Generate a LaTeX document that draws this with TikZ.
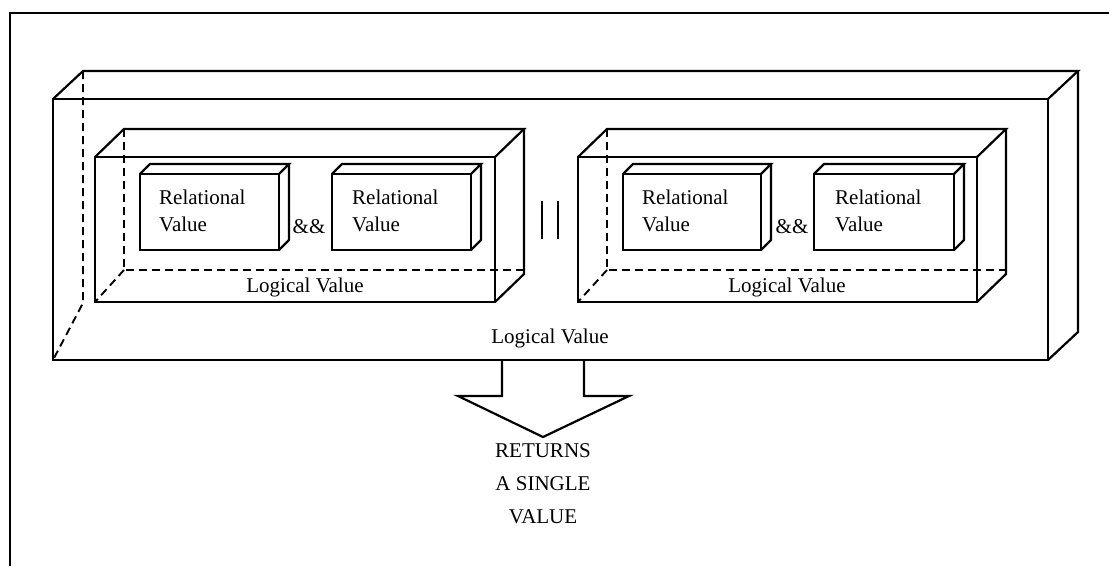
\documentclass[tikz,border=0pt]{standalone}
\usepackage{fontspec}
\setmainfont{Liberation Serif}
\tikzset{
  edge/.style={line width=2.2pt, line join=miter},
  hidden/.style={line width=1.9pt, dash pattern=on 8pt off 5pt},
  frameline/.style={line width=2.8pt},
  lbl/.style={inner sep=0pt, font=\fontsize{21}{27}\selectfont},
  rel/.style={lbl, align=left, anchor=west},
}
% solid box: front face (x1,y1)-(x2,y2), depth offset (dx,dy) towards the upper right
\newcommand\solidbox[6]{%
  \draw[edge] (#1,#2) rectangle (#3,#4);
  \draw[edge] (#1,#2) -- (#1+#5,#2-#6) -- (#3+#5,#2-#6) -- (#3,#2);
  \draw[edge] (#3+#5,#2-#6) -- (#3+#5,#4-#6) -- (#3,#4);
}
\begin{document}
\begin{tikzpicture}[x=1pt,y=-1pt]
\useasboundingbox (0,0) rectangle (1109,566);

% page frame
\draw[frameline] (10,566) -- (10,13) -- (1109,13);

% outer container
\solidbox{53}{99}{1048}{360}{30}{28}
\draw[hidden] (83,71) -- (83,303) -- (53,360);

% left and right containers
\solidbox{95}{157}{495}{302}{29}{28}
\draw[hidden] (124,129) -- (124,270) -- (524,270);
\draw[hidden] (124,270) -- (95,302);
\solidbox{578}{157}{977}{302}{29}{28}
\draw[hidden] (607,129) -- (607,270) -- (1006,270);
\draw[hidden] (607,270) -- (578,302);

% relational blocks
\solidbox{140}{174}{279}{250}{10}{10}
\solidbox{332}{174}{471}{250}{10}{10}
\solidbox{623}{174}{761}{250}{10}{10}
\solidbox{814}{174}{954}{250}{10}{10}

\node[rel] (ra) at (159,211) {Relational\\Value};
\node[rel] (rb) at (352,211) {Relational\\Value};
\node[rel] (rc) at (642,211) {Relational\\Value};
\node[rel] (rd) at (835,211) {Relational\\Value};

\node[lbl] (and1) at (309,227) {\&\&};
\node[lbl] (and2) at (792,227) {\&\&};

% logical or between the containers
\coordinate (or1t) at (542,201); \coordinate (or1b) at (542,239);
\coordinate (or2t) at (558,201); \coordinate (or2b) at (558,239);
\draw[line width=2pt] (or1t) -- (or1b) (or2t) -- (or2b);

\node[lbl] (lv1) at (305,287) {Logical Value};
\node[lbl] (lv2) at (787,287) {Logical Value};
\node[lbl] (lv0) at (550,338) {Logical Value};

% result arrow
\draw[edge] (502,360) -- (502,396) -- (458,396) -- (543,437) -- (629,396) -- (584,396) -- (584,360);
\node[lbl, align=center, font=\fontsize{21}{33}\selectfont, anchor=north] (res) at (543,443)
  {RETURNS\\A SINGLE\\VALUE};
\end{tikzpicture}
\end{document}
